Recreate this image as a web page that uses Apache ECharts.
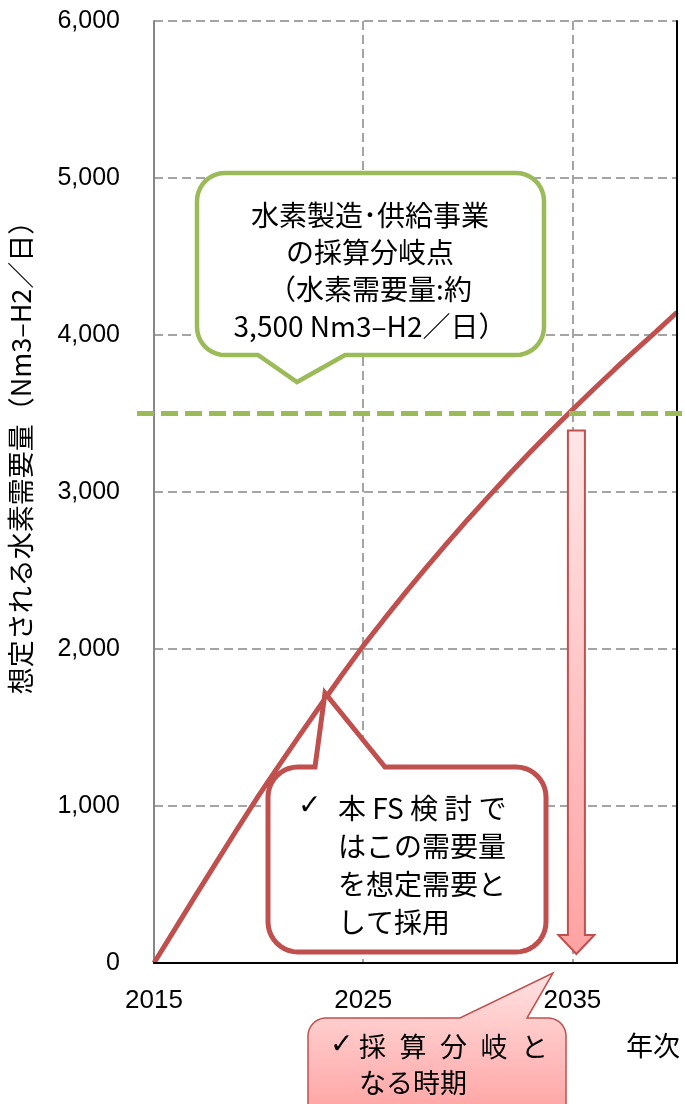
<!DOCTYPE html>
<html>
<head>
<meta charset="utf-8">
<script src="https://cdn.jsdelivr.net/npm/echarts@6/dist/echarts.min.js"></script>
<style>
  html, body { margin: 0; padding: 0; background: #ffffff; }
  #chart { width: 685px; height: 1104px; }
</style>
</head>
<body>
<div id="chart"></div>
<script>
// Projected hydrogen demand (Nm3-H2/day) by year
const years = ['2015', '2016', '2017', '2018', '2019', '2020', '2021', '2022', '2023', '2024',
               '2025', '2026', '2027', '2028', '2029', '2030', '2031', '2032', '2033', '2034',
               '2035', '2036', '2037', '2038', '2039', '2040'];
const demand = [0, 216, 432, 646, 858, 1066, 1264, 1458, 1650, 1838,
                2020, 2190, 2356, 2517, 2673, 2825, 2972, 3116, 3256, 3392,
                3524, 3653, 3779, 3902, 4022, 4145];
// years that carry a label / a vertical grid line
const labelledYears = ['2015', '2025', '2035'];
const gridYears = ['2025', '2035'];
// break-even demand of the hydrogen production & supply business
const breakEvenDemand = 3500;
const breakEvenYear = '2035';
const yMin = 0, yMax = 6000, yStep = 1000;

const CJK = '"Noto Sans CJK JP", "Noto Sans", sans-serif';
const LATIN = '"Liberation Sans", Arial, sans-serif';
const RED = '#C0504D';
const GREEN = '#9BBB59';
const GRID = '#868686';

const chart = echarts.init(document.getElementById('chart'), null, { renderer: 'canvas' });

const option = {
  animation: false,
  backgroundColor: '#ffffff',
  grid: { left: 154, right: 8, top: 21, bottom: 141, containLabel: false },
  xAxis: [{
    type: 'category',
    data: years,
    boundaryGap: false,
    axisLine: { show: true, lineStyle: { color: GRID, width: 2 } },
    axisTick: { show: false },
    axisLabel: {
      interval: (i, v) => labelledYears.includes(v),
      margin: 25,
      color: '#000',
      fontFamily: LATIN,
      fontSize: 26
    },
    splitLine: {
      show: true,
      interval: (i, v) => gridYears.includes(v),
      lineStyle: { color: GRID, width: 1.5, type: [9, 5] }
    },
    z: 3
  }, {
    type: 'category',
    data: years,
    boundaryGap: false,
    position: 'top',
    axisLine: { show: true, lineStyle: { color: '#000', width: 2 } },
    axisTick: { show: false },
    axisLabel: { show: false },
    splitLine: { show: false },
    z: 5
  }],
  yAxis: [{
    type: 'value',
    min: yMin, max: yMax, interval: yStep,
    axisLine: { show: true, lineStyle: { color: GRID, width: 2 } },
    axisTick: { show: false },
    axisLabel: {
      margin: 34,
      color: '#000',
      fontFamily: LATIN,
      fontSize: 25,
      formatter: v => v.toLocaleString('en-US')
    },
    splitLine: { show: true, lineStyle: { color: GRID, width: 1.5, type: [9, 5] } },
    z: 3
  }, {
    type: 'value',
    min: yMin, max: yMax, interval: yStep,
    position: 'right',
    axisLine: { show: true, lineStyle: { color: '#000', width: 2 } },
    axisTick: { show: false },
    axisLabel: { show: false },
    splitLine: { show: false },
    z: 5
  }],
  series: [{
    type: 'line',
    data: demand,
    symbol: 'none',
    smooth: false,
    lineStyle: { color: RED, width: 5 },
    z: 4
  }]
};
chart.setOption(option);

// helpers to place annotations relative to the axes
const pt = (year, value) => chart.convertToPixel({ gridIndex: 0 }, [years.indexOf(year), value]);
const beY = pt(years[0], breakEvenDemand)[1];
const axisY = pt(years[0], 0)[1];
const arrowX = pt(breakEvenYear, 0)[0] + 4;

// outline of a rounded box with a pointer on its top or bottom edge
function callout(x0, y0, x1, y1, r, tail, side) {
  const pts = [];
  const arc = (cx, cy, a0, a1) => {
    const n = 10;
    for (let k = 0; k <= n; k++) {
      const a = (a0 + (a1 - a0) * k / n) * Math.PI / 180;
      pts.push([cx + r * Math.cos(a), cy + r * Math.sin(a)]);
    }
  };
  arc(x0 + r, y0 + r, 180, 270);
  if (side === 'top') tail.forEach(p => pts.push(p));
  arc(x1 - r, y0 + r, 270, 360);
  arc(x1 - r, y1 - r, 0, 90);
  if (side === 'bottom') tail.forEach(p => pts.push(p));
  arc(x0 + r, y1 - r, 90, 180);
  return pts;
}

const arrowTop = beY + 17, headTop = axisY - 28, arrowTip = axisY - 9;
const shaft = 8.5, head = 18;
const CHECK = { fontFamily: '"DejaVu Sans", sans-serif', fontSize: 28, fill: '#000', align: 'left', verticalAlign: 'middle' };

chart.setOption({
  graphic: [
    // y-axis title
    {
      type: 'text', x: 21, y: 451, rotation: Math.PI / 2, z: 10,
      style: {
        text: '想定される水素需要量（Nm3–H2／日）',
        fontFamily: CJK, fontSize: 27, fill: '#000',
        align: 'center', verticalAlign: 'middle'
      }
    },
    // break-even demand line
    {
      type: 'line', z: 6,
      shape: { x1: 137, y1: beY, x2: 685, y2: beY },
      style: { stroke: GREEN, lineWidth: 5, lineDash: [17, 7] }
    },
    // downward arrow at the break-even year
    {
      type: 'polygon', z: 7,
      shape: {
        points: [
          [arrowX - shaft, arrowTop], [arrowX + shaft, arrowTop],
          [arrowX + shaft, headTop], [arrowX + head, headTop],
          [arrowX, arrowTip], [arrowX - head, headTop],
          [arrowX - shaft, headTop]
        ]
      },
      style: {
        fill: {
          type: 'linear', x: 0, y: 0, x2: 0, y2: 1,
          colorStops: [{ offset: 0, color: '#FFE6E8' }, { offset: 1, color: '#FFA2A2' }]
        },
        stroke: RED, lineWidth: 2
      }
    },
    // green callout
    {
      type: 'polygon', z: 8,
      shape: { points: callout(197, 173, 544, 355, 28, [[345, 355], [297, 382], [258, 355]], 'bottom') },
      style: { fill: '#fff', stroke: GREEN, lineWidth: 4.5, lineJoin: 'miter' }
    },
    {
      type: 'text', x: 370, y: 271, z: 9,
      style: {
        text: '水素製造･供給事業\nの採算分岐点\n（水素需要量:約\n3,500 Nm3–H2／日）',
        fontFamily: CJK, fontSize: 28, lineHeight: 37, fill: '#000',
        align: 'center', verticalAlign: 'middle'
      }
    },
    // red callout
    {
      type: 'polygon', z: 8,
      shape: { points: callout(268, 767, 546, 952, 30, [[315, 767], [325, 693], [385, 767]], 'top') },
      style: { fill: '#fff', stroke: RED, lineWidth: 5, lineJoin: 'miter' }
    },
    { type: 'text', x: 298, y: 807, z: 9, style: Object.assign({ text: '✓' }, CHECK) },
    {
      type: 'text', x: 338, y: 789, z: 9,
      style: {
        text: '本 FS 検 討 で\nはこの需要量\nを想定需要と\nして採用',
        fontFamily: CJK, fontSize: 28, lineHeight: 38, fill: '#000',
        align: 'left', verticalAlign: 'top'
      }
    },
    // pink callout
    {
      type: 'polygon', z: 8,
      shape: { points: callout(308, 1018, 566, 1130, 18, [[460, 1018], [553, 973], [527, 1018]], 'top') },
      style: {
        fill: {
          type: 'linear', x: 0, y: 0, x2: 0, y2: 1,
          colorStops: [{ offset: 0, color: '#FFE2E2' }, { offset: 1, color: '#FF9C9C' }]
        },
        stroke: RED, lineWidth: 1.5
      }
    },
    { type: 'text', x: 330, y: 1046, z: 9, style: Object.assign({ text: '✓' }, CHECK) },
    {
      type: 'text', x: 359, y: 1029, z: 9,
      style: {
        text: '採\u2002算\u2002分\u2002岐\u2002と\nなる時期',
        fontFamily: CJK, fontSize: 27, lineHeight: 36, fill: '#000',
        align: 'left', verticalAlign: 'top'
      }
    },
    // x-axis title
    {
      type: 'text', x: 653, y: 1046, z: 9,
      style: { text: '年次', fontFamily: CJK, fontSize: 27, fill: '#000', align: 'center', verticalAlign: 'middle' }
    }
  ]
});
</script>
</body>
</html>
